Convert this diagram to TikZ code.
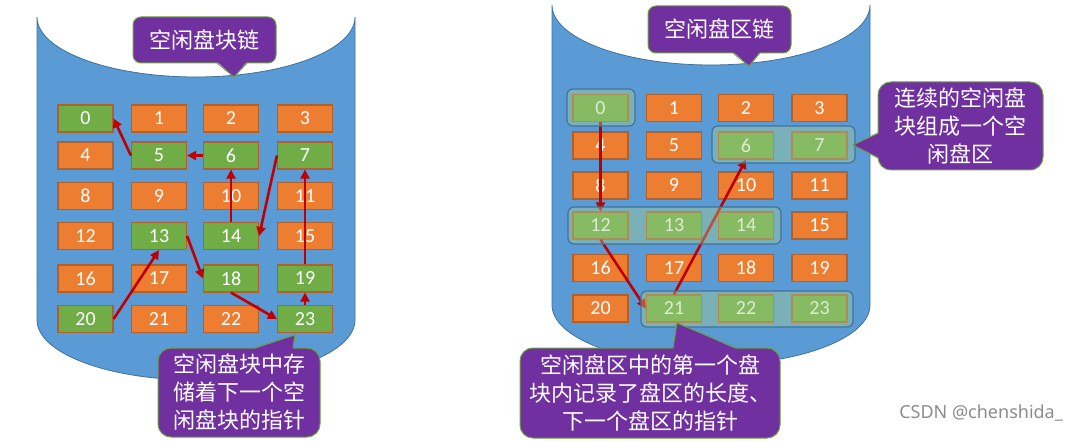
\documentclass[tikz,border=0pt]{standalone}
\usepackage{fontspec}
\newfontfamily\cjk{Noto Sans CJK SC}
\newfontfamily\numf{Carlito}
\newfontfamily\wmf{Noto Sans}
\usetikzlibrary{arrows.meta}
\definecolor{cylblue}{HTML}{5B9BD5}
\definecolor{cylline}{HTML}{41719C}
\definecolor{borange}{HTML}{ED7D31}
\definecolor{orline}{HTML}{B0602A}
\definecolor{bgreen}{HTML}{70AD47}
\definecolor{arrred}{HTML}{C00000}
\definecolor{calpurple}{HTML}{7030A0}
\definecolor{calline}{HTML}{6A9F45}
\definecolor{ovfill}{HTML}{A9D18E}
\definecolor{wmgray}{HTML}{8C8C8C}
\tikzset{
  blk/.style={draw=orline, line width=1.2pt, minimum width=55pt, minimum height=27pt,
    inner sep=0pt, text=white, font=\numf\fontsize{20}{20}\selectfont},
  ob/.style={blk, fill=borange},
  gb/.style={blk, fill=bgreen},
  ptr/.style={draw=arrred, line width=2.6pt, -{Triangle[length=9pt,width=9pt]}},
  cylfill/.style={fill=cylblue, draw=cylline, line width=0.8pt},
  ovl/.style={draw=cylline, line width=1.2pt, fill=ovfill, fill opacity=0.4, rounded corners=6pt},
  callbox/.style={fill=calpurple, draw=calline, line width=1pt, text=white, align=center,
    inner sep=0pt, font=\cjk\fontsize{22}{28}\selectfont},
  calltip/.style={fill=calpurple},
  calledge/.style={draw=calline, line width=1pt},
}
\begin{document}
\begin{tikzpicture}[x=1pt,y=-1pt]
\useasboundingbox (0,0) rectangle (1080,441);
\clip (0,0) rectangle (1080,441);

% ---------------- left cylinder ----------------
\path[cylfill] (37,17) -- (37,320) arc[start angle=180, end angle=360, x radius=159pt, y radius=60pt]
  -- (355,17) arc[start angle=360, end angle=180, x radius=159pt, y radius=60pt] -- cycle;

% left grid
\node[gb] (L0) at (85.5,118.5) {0};
\node[ob] (L1) at (159,118.5) {1};
\node[ob] (L2) at (231,118.5) {2};
\node[ob] (L3) at (305,118.5) {3};
\node[ob] (L4) at (85.5,155.5) {4};
\node[gb] (L5) at (159,155.5) {5};
\node[gb] (L6) at (231,155.5) {6};
\node[gb] (L7) at (305,155.5) {7};
\node[ob] (L8) at (85.5,196) {8};
\node[ob] (L9) at (159,196) {9};
\node[ob] (L10) at (231,196) {10};
\node[ob] (L11) at (305,196) {11};
\node[ob] (L12) at (85.5,236) {12};
\node[gb] (L13) at (159,236) {13};
\node[gb] (L14) at (231,236) {14};
\node[ob] (L15) at (305,236) {15};
\node[ob] (L16) at (85.5,278.5) {16};
\node[ob] (L17) at (159,278.5) {17};
\node[gb] (L18) at (231,278.5) {18};
\node[gb] (L19) at (305,278.5) {19};
\node[gb] (L20) at (85.5,319) {20};
\node[ob] (L21) at (159,319) {21};
\node[ob] (L22) at (231,319) {22};
\node[gb] (L23) at (305,319) {23};

\draw[ptr] (L5.west) -- (L0.east);
\draw[ptr] (L6.west) -- (L5.east);
\draw[ptr] (L14.north) -- (L6.south);
\draw[ptr] (L7.west) -- (L14.east);
\draw[ptr] (L20.east) -- (L13.south);
\draw[ptr] (L13.east) -- (L18.west);
\draw[ptr] (L18.south) -- (L23.west);
\draw[ptr] (L23.north) -- (L19.south);
\draw[ptr] (L19.north) -- (L7.south);

% left callouts
\node[callbox, minimum width=143pt, minimum height=46pt, rounded corners=8pt] (LT) at (204.5,40) {空闲盘块链};
\fill[calltip] (217,61.5) -- (234,77) -- (247,61.5) -- cycle;
\draw[calledge] (217,63) -- (234,77) -- (247,63);

\node[callbox, minimum width=162pt, minimum height=89pt, rounded corners=13pt] (LB) at (239,392.5) {空闲盘块中存\\储着下一个空\\闲盘块的指针};
\fill[calltip] (253,349.5) -- (295,335) -- (293,349.5) -- cycle;
\draw[calledge] (253,348) -- (295,335) -- (293,348);

% ---------------- right cylinder ----------------
\path[cylfill] (552,5) -- (552,305) arc[start angle=180, end angle=360, x radius=159pt, y radius=60pt]
  -- (870,5) arc[start angle=360, end angle=180, x radius=159pt, y radius=60pt] -- cycle;

\node[gb] (R0) at (600.5,108) {0};
\node[ob] (R1) at (674,108) {1};
\node[ob] (R2) at (746,108) {2};
\node[ob] (R3) at (819.5,108) {3};
\node[ob] (R4) at (600.5,145.5) {4};
\node[ob] (R5) at (674,145.5) {5};
\node[gb] (R6) at (746,145.5) {6};
\node[gb] (R7) at (819.5,145.5) {7};
\node[ob] (R8) at (600.5,185.5) {8};
\node[ob] (R9) at (674,185.5) {9};
\node[ob] (R10) at (746,185.5) {10};
\node[ob] (R11) at (819.5,185.5) {11};
\node[gb] (R12) at (600.5,225.5) {12};
\node[gb] (R13) at (674,225.5) {13};
\node[gb] (R14) at (746,225.5) {14};
\node[ob] (R15) at (819.5,225.5) {15};
\node[ob] (R16) at (600.5,268) {16};
\node[ob] (R17) at (674,268) {17};
\node[ob] (R18) at (746,268) {18};
\node[ob] (R19) at (819.5,268) {19};
\node[ob] (R20) at (600.5,308.5) {20};
\node[gb] (R21) at (674,308.5) {21};
\node[gb] (R22) at (746,308.5) {22};
\node[gb] (R23) at (819.5,308.5) {23};

\draw[ptr] (R0.south) -- (R12.north);
\draw[ptr] (R12.south) -- (R21.west);
\draw[ptr] (R21.north) -- (R6.south);

% free-extent overlays
\path[ovl] (567,89) rectangle (635,126);
\path[ovl] (712,126) rectangle (855,163);
\path[ovl] (568,207) rectangle (781,244);
\path[ovl] (641,291) rectangle (853,327);

% right callouts
\node[callbox, minimum width=143pt, minimum height=47pt, rounded corners=8pt] (RT) at (719.5,29.5) {空闲盘区链};
\fill[calltip] (733,51.5) -- (749,66) -- (760,51.5) -- cycle;
\draw[calledge] (733,53) -- (749,66) -- (760,53);

\node[callbox, minimum width=165pt, minimum height=88pt, rounded corners=13pt] (RS) at (960.5,126) {连续的空闲盘\\块组成一个空\\闲盘区};
\fill[calltip] (879.5,133) -- (853,145) -- (879.5,158) -- cycle;
\draw[calledge] (878,133) -- (853,145) -- (878,158);

\node[callbox, minimum width=260pt, minimum height=90pt, rounded corners=13pt] (RB) at (650,393) {空闲盘区中的第一个盘\\块内记录了盘区的长度、\\下一个盘区的指针};
\fill[calltip] (673,349.5) -- (677,323) -- (737,349.5) -- cycle;
\draw[calledge] (673,348) -- (677,323) -- (737,348);

\node[anchor=east, text=wmgray, inner sep=0pt, font=\wmf\fontsize{18}{18}\selectfont] (wm) at (1063,413) {CSDN @chenshida\_};
\end{tikzpicture}
\end{document}
